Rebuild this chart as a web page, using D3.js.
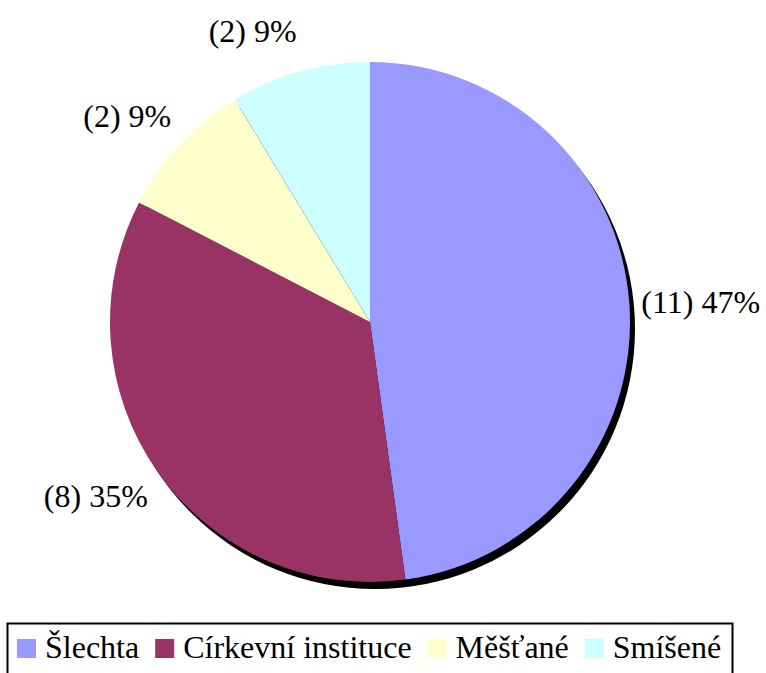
<!DOCTYPE html>
<head>
<meta charset="utf-8">
<title>Pie chart</title>
<style>
body { margin: 0; background: #fff; }
svg { display: block; }
text { font-family: "Liberation Serif", "Times New Roman", serif; fill: #000; }
</style>
</head>
<body>
<div id="chart"></div>
<script src="https://cdnjs.cloudflare.com/ajax/libs/d3/7.8.5/d3.min.js"></script>
<script>

// Data
var categories = ["Šlechta", "Církevní instituce", "Měšťané", "Smíšené"];
var counts = [11, 8, 2, 2];
var percentLabels = ["47%", "35%", "9%", "9%"];
var colors = ["#9999FF", "#993366", "#FFFFCC", "#CCFFFF"];

var width = 766, height = 673;
var cx = 370, cy = 322, radius = 260;

var svg = d3.select("#chart").append("svg")
    .attr("width", width)
    .attr("height", height);

var pie = d3.pie().sort(null).value(function(d) { return d; });
var arc = d3.arc().innerRadius(0).outerRadius(radius);
var arcs = pie(counts);

var g = svg.append("g")
    .attr("transform", "translate(" + cx + "," + cy + ")");

// drop shadow
g.append("path")
    .attr("d", d3.arc().innerRadius(0).outerRadius(radius)({startAngle: 0, endAngle: 2 * Math.PI}))
    .attr("transform", "translate(5,7)")
    .attr("fill", "#000");

// slices
g.selectAll(".slice")
    .data(arcs)
  .enter().append("path")
    .attr("class", "slice")
    .attr("d", arc)
    .attr("fill", function(d, i) { return colors[i]; });

// labels outside the pie
var labelR = radius + 12, labelH = 30;
g.selectAll(".lbl")
    .data(arcs)
  .enter().append("text")
    .attr("class", "lbl")
    .style("font-size", "32px")
    .attr("x", function(d) {
      var a = (d.startAngle + d.endAngle) / 2;
      return Math.sin(a) * labelR;
    })
    .attr("y", function(d) {
      var a = (d.startAngle + d.endAngle) / 2;
      return -Math.cos(a) * labelR - Math.cos(a) * labelH;
    })
    .attr("dy", "0.35em")
    .attr("text-anchor", function(d) {
      var a = (d.startAngle + d.endAngle) / 2;
      return Math.sin(a) >= 0 ? "start" : "end";
    })
    .text(function(d, i) { return "(" + counts[i] + ") " + percentLabels[i]; });

// legend
var legend = svg.append("g");
legend.append("rect")
    .attr("x", 7.5)
    .attr("y", 623.5)
    .attr("width", 725)
    .attr("height", 70)
    .attr("fill", "#fff")
    .attr("stroke", "#000")
    .attr("stroke-width", 2);

var lx = 17;
categories.forEach(function(c, i) {
  legend.append("rect")
      .attr("x", lx)
      .attr("y", 639)
      .attr("width", 19)
      .attr("height", 19)
      .attr("fill", colors[i]);
  var t = legend.append("text")
      .attr("x", lx + 28)
      .attr("y", 658)
      .style("font-size", "32px")
      .text(c);
  lx = lx + 28 + t.node().getComputedTextLength() + 16;
});

</script>
</body>
</html>
